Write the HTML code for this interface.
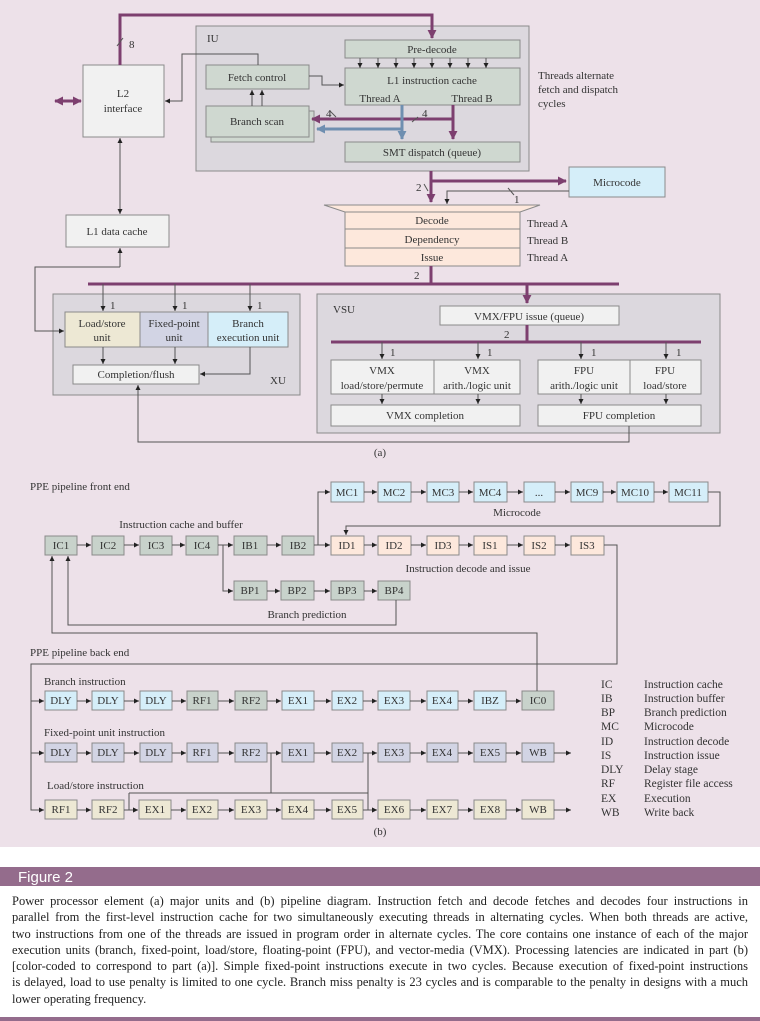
<!DOCTYPE html>
<html><head><meta charset="utf-8"><style>
html,body{margin:0;padding:0;background:#fff;width:760px;height:1021px;overflow:hidden}
svg{position:absolute;left:0;top:0}
.cap{position:absolute;left:12px;width:736px;font-family:"Liberation Serif",serif;font-size:12.5px;line-height:16.3px;color:#222}
.cap div{text-align:justify;text-align-last:justify;white-space:nowrap;height:16.3px}
.cap div.last{text-align-last:left}
</style></head><body>
<svg width="760" height="1021" viewBox="0 0 760 1021" xmlns="http://www.w3.org/2000/svg" font-family="Liberation Serif, serif" font-size="11" fill="#333">
<defs>
<marker id="a" viewBox="0 0 10 10" refX="10" refY="5" markerWidth="5" markerHeight="5" markerUnits="userSpaceOnUse" orient="auto"><path d="M0,0L10,5L0,10z" fill="#222"/></marker>
<marker id="p" viewBox="0 0 10 10" refX="9" refY="5" markerWidth="9" markerHeight="9" markerUnits="userSpaceOnUse" orient="auto"><path d="M0,0L10,5L0,10z" fill="#7d3f6f"/></marker>
<marker id="ps" viewBox="0 0 10 10" refX="1" refY="5" markerWidth="9" markerHeight="9" markerUnits="userSpaceOnUse" orient="auto"><path d="M10,0L0,5L10,10z" fill="#7d3f6f"/></marker>
<marker id="b" viewBox="0 0 10 10" refX="9" refY="5" markerWidth="9" markerHeight="9" markerUnits="userSpaceOnUse" orient="auto"><path d="M0,0L10,5L0,10z" fill="#6f8fb0"/></marker>
</defs>
<rect x="0" y="0" width="760" height="847" fill="#ede1e9"/>
<g stroke="#8a8a8a" stroke-width="1">
<rect x="196" y="26" width="333" height="145" fill="#dcd8de"/>
<rect x="345" y="40" width="175" height="18" fill="#cfd8d0"/>
<rect x="345" y="68" width="175" height="37" fill="#cfd8d0"/>
<rect x="206" y="65" width="103" height="24" fill="#cfd8d0"/>
<rect x="211" y="111" width="103" height="31" fill="#cfd8d0"/>
<rect x="206" y="106" width="103" height="31" fill="#cfd8d0"/>
<rect x="345" y="142" width="175" height="20" fill="#cfd8d0"/>
<rect x="83" y="65" width="81" height="72" fill="#f1f1f1"/>
<rect x="66" y="215" width="103" height="32" fill="#f1f1f1"/>
<rect x="569" y="167" width="96" height="30" fill="#d5eef9"/>
<path d="M324,205L540,205L520,212L345,212z" fill="#fde8dc"/>
<rect x="345" y="212" width="175" height="17" fill="#fde8dc"/>
<rect x="345" y="229" width="175" height="19" fill="#fde8dc"/>
<rect x="345" y="248" width="175" height="18" fill="#fde8dc"/>
<rect x="53" y="294" width="247" height="101" fill="#dcd8de"/>
<rect x="65" y="312" width="75" height="35" fill="#ede8d4"/>
<rect x="140" y="312" width="68" height="35" fill="#d2d4e4"/>
<rect x="208" y="312" width="80" height="35" fill="#d5eef9"/>
<rect x="73" y="365" width="126" height="19" fill="#f1f1f1"/>
<rect x="317" y="294" width="403" height="139" fill="#dcd8de"/>
<rect x="440" y="306" width="179" height="19" fill="#f1f1f1"/>
<rect x="331" y="360" width="103" height="34" fill="#f1f1f1"/>
<rect x="434" y="360" width="86" height="34" fill="#f1f1f1"/>
<rect x="538" y="360" width="92" height="34" fill="#f1f1f1"/>
<rect x="630" y="360" width="71" height="34" fill="#f1f1f1"/>
<rect x="331" y="405" width="189" height="21" fill="#f1f1f1"/>
<rect x="538" y="405" width="163" height="21" fill="#f1f1f1"/>
</g>
<g stroke="#7d3f6f" stroke-width="3" fill="none">
<path d="M120,65V15H432V38" marker-end="url(#p)"/>
<path d="M453,105V139" marker-end="url(#p)"/>
<path d="M453,119H312" marker-end="url(#p)"/>
<path d="M431,171V202" marker-end="url(#p)"/>
<path d="M431,181H566" marker-end="url(#p)"/>
<path d="M431,266V284"/>
<path d="M88,284H619"/>
<path d="M527,284V303" marker-end="url(#p)"/>
<path d="M527,325V342"/>
<path d="M331,342H701"/>
<path d="M55,101H81" marker-end="url(#p)" marker-start="url(#ps)"/>
</g>
<g stroke="#6f8fb0" stroke-width="3" fill="none">
<path d="M402,105V139" marker-end="url(#b)"/>
<path d="M402,129H317" marker-end="url(#b)"/>
</g>
<g stroke="#555" stroke-width="1" fill="none" marker-end="url(#a)">
<path d="M360,58V68"/><path d="M378,58V68"/><path d="M396,58V68"/><path d="M414,58V68"/><path d="M432,58V68"/><path d="M450,58V68"/><path d="M468,58V68"/><path d="M486,58V68"/>
<path d="M258,65V54H182V101H165"/>
<path d="M309,76H322V85H344"/>
<path d="M252,106V90"/><path d="M262,106V90"/>
<path d="M120,146V214"/><path d="M120,146V138"/>
<path d="M569,191H447V204"/>
<path d="M120,267V248"/>
<path d="M120,267H35V331H64"/>
<path d="M103,284V311"/><path d="M175,284V311"/><path d="M250,284V311"/>
<path d="M103,347V364"/><path d="M175,347V364"/>
<path d="M250,347V374H200"/>
<path d="M382,342V359"/><path d="M478,342V359"/><path d="M581,342V359"/><path d="M666,342V359"/>
<path d="M382,394V404"/><path d="M478,394V404"/><path d="M581,394V404"/><path d="M666,394V404"/>
<path d="M629,426V442H138V385"/>
</g>
<g stroke="#555" stroke-width="1" fill="none">
<path d="M117,46L123,38"/><path d="M330,111L336,117"/><path d="M418,117L412,122"/><path d="M424,184L428,191"/><path d="M508,188L514,195"/>
</g>
<g text-anchor="middle">
<text x="432" y="53">Pre-decode</text>
<text x="432" y="84">L1 instruction cache</text>
<text x="380" y="102">Thread A</text><text x="472" y="102">Thread B</text>
<text x="257" y="81">Fetch control</text>
<text x="257" y="125">Branch scan</text>
<text x="432" y="156">SMT dispatch (queue)</text>
<text x="123" y="97">L2</text><text x="123" y="112">interface</text>
<text x="117" y="235">L1 data cache</text>
<text x="617" y="186">Microcode</text>
<text x="432" y="224">Decode</text>
<text x="432" y="243">Dependency</text>
<text x="432" y="261">Issue</text>
<text x="102" y="327">Load/store</text><text x="102" y="341">unit</text>
<text x="174" y="327">Fixed-point</text><text x="174" y="341">unit</text>
<text x="248" y="327">Branch</text><text x="248" y="341">execution unit</text>
<text x="136" y="378">Completion/flush</text>
<text x="529" y="320">VMX/FPU issue (queue)</text>
<text x="382" y="374">VMX</text><text x="382" y="389">load/store/permute</text>
<text x="477" y="374">VMX</text><text x="477" y="389">arith./logic unit</text>
<text x="584" y="374">FPU</text><text x="584" y="389">arith./logic unit</text>
<text x="665" y="374">FPU</text><text x="665" y="389">load/store</text>
<text x="425" y="419">VMX completion</text>
<text x="619" y="419">FPU completion</text>
<text x="380" y="456">(a)</text>
</g>
<text x="207" y="42">IU</text>
<text x="333" y="313">VSU</text>
<text x="270" y="384">XU</text>
<text x="129" y="48">8</text>
<text x="326" y="117">4</text><text x="422" y="117">4</text>
<text x="416" y="191">2</text><text x="514" y="203">1</text>
<text x="414" y="279">2</text><text x="504" y="338">2</text>
<text x="110" y="309">1</text><text x="182" y="309">1</text><text x="257" y="309">1</text>
<text x="390" y="356">1</text><text x="487" y="356">1</text><text x="591" y="356">1</text><text x="676" y="356">1</text>
<text x="538" y="79">Threads alternate</text><text x="538" y="93">fetch and dispatch</text><text x="538" y="107">cycles</text>
<text x="527" y="227">Thread A</text><text x="527" y="244">Thread B</text><text x="527" y="261">Thread A</text>

<text x="30" y="490">PPE pipeline front end</text>
<text x="181" y="528" text-anchor="middle">Instruction cache and buffer</text>
<text x="517" y="516" text-anchor="middle">Microcode</text>
<text x="468" y="572" text-anchor="middle">Instruction decode and issue</text>
<text x="307" y="618" text-anchor="middle">Branch prediction</text>
<text x="30" y="656">PPE pipeline back end</text>
<text x="44" y="685">Branch instruction</text>
<text x="44" y="736">Fixed-point unit instruction</text>
<text x="47" y="789">Load/store instruction</text>
<text x="380" y="835" text-anchor="middle">(b)</text>

<g stroke="#8a8a8a" stroke-width="1">
<g fill="#d5eef9">
<rect x="331" y="482" width="33" height="20"/><rect x="378" y="482" width="33" height="20"/><rect x="427" y="482" width="32" height="20"/><rect x="474" y="482" width="33" height="20"/><rect x="524" y="482" width="31" height="20"/><rect x="571" y="482" width="32" height="20"/><rect x="617" y="482" width="37" height="20"/><rect x="669" y="482" width="39" height="20"/>
</g>
<g fill="#c8d2cb">
<rect x="45" y="536" width="32" height="19"/><rect x="92" y="536" width="32" height="19"/><rect x="140" y="536" width="32" height="19"/><rect x="186" y="536" width="32" height="19"/><rect x="234" y="536" width="33" height="19"/><rect x="282" y="536" width="32" height="19"/>
<rect x="234" y="581" width="33" height="19"/><rect x="281" y="581" width="33" height="19"/><rect x="331" y="581" width="33" height="19"/><rect x="378" y="581" width="32" height="19"/>
</g>
<g fill="#fde8dc">
<rect x="331" y="536" width="33" height="19"/><rect x="378" y="536" width="33" height="19"/><rect x="427" y="536" width="32" height="19"/><rect x="474" y="536" width="33" height="19"/><rect x="524" y="536" width="31" height="19"/><rect x="571" y="536" width="33" height="19"/>
</g>
<g fill="#d5eef9">
<rect x="45" y="691" width="32" height="19"/><rect x="92" y="691" width="32" height="19"/><rect x="140" y="691" width="32" height="19"/>
<rect x="282" y="691" width="32" height="19"/><rect x="332" y="691" width="31" height="19"/><rect x="378" y="691" width="32" height="19"/><rect x="427" y="691" width="31" height="19"/><rect x="474" y="691" width="32" height="19"/>
</g>
<g fill="#c8d2cb"><rect x="187" y="691" width="31" height="19"/><rect x="235" y="691" width="32" height="19"/><rect x="522" y="691" width="32" height="19"/></g>
<g fill="#d2d4e4">
<rect x="45" y="743" width="32" height="19"/><rect x="92" y="743" width="32" height="19"/><rect x="140" y="743" width="32" height="19"/><rect x="187" y="743" width="31" height="19"/><rect x="235" y="743" width="32" height="19"/><rect x="282" y="743" width="32" height="19"/><rect x="332" y="743" width="31" height="19"/><rect x="378" y="743" width="32" height="19"/><rect x="427" y="743" width="31" height="19"/><rect x="474" y="743" width="32" height="19"/><rect x="522" y="743" width="32" height="19"/>
</g>
<g fill="#ede8d4">
<rect x="45" y="800" width="32" height="19"/><rect x="92" y="800" width="32" height="19"/><rect x="139" y="800" width="32" height="19"/><rect x="187" y="800" width="31" height="19"/><rect x="235" y="800" width="32" height="19"/><rect x="282" y="800" width="32" height="19"/><rect x="332" y="800" width="31" height="19"/><rect x="378" y="800" width="32" height="19"/><rect x="427" y="800" width="31" height="19"/><rect x="474" y="800" width="32" height="19"/><rect x="522" y="800" width="32" height="19"/>
</g>
</g>
<g text-anchor="middle">
<text x="347" y="496">MC1</text><text x="394" y="496">MC2</text><text x="443" y="496">MC3</text><text x="490" y="496">MC4</text><text x="539" y="496">...</text><text x="587" y="496">MC9</text><text x="635" y="496">MC10</text><text x="688" y="496">MC11</text>
<text x="61" y="549">IC1</text><text x="108" y="549">IC2</text><text x="156" y="549">IC3</text><text x="202" y="549">IC4</text><text x="250" y="549">IB1</text><text x="298" y="549">IB2</text>
<text x="347" y="549">ID1</text><text x="394" y="549">ID2</text><text x="443" y="549">ID3</text><text x="490" y="549">IS1</text><text x="539" y="549">IS2</text><text x="587" y="549">IS3</text>
<text x="250" y="594">BP1</text><text x="297" y="594">BP2</text><text x="347" y="594">BP3</text><text x="394" y="594">BP4</text>
<text x="61" y="704">DLY</text><text x="108" y="704">DLY</text><text x="156" y="704">DLY</text><text x="202" y="704">RF1</text><text x="251" y="704">RF2</text><text x="298" y="704">EX1</text><text x="347" y="704">EX2</text><text x="394" y="704">EX3</text><text x="442" y="704">EX4</text><text x="490" y="704">IBZ</text><text x="538" y="704">IC0</text>
<text x="61" y="756">DLY</text><text x="108" y="756">DLY</text><text x="156" y="756">DLY</text><text x="202" y="756">RF1</text><text x="251" y="756">RF2</text><text x="298" y="756">EX1</text><text x="347" y="756">EX2</text><text x="394" y="756">EX3</text><text x="442" y="756">EX4</text><text x="490" y="756">EX5</text><text x="538" y="756">WB</text>
<text x="61" y="813">RF1</text><text x="108" y="813">RF2</text><text x="155" y="813">EX1</text><text x="202" y="813">EX2</text><text x="251" y="813">EX3</text><text x="298" y="813">EX4</text><text x="347" y="813">EX5</text><text x="394" y="813">EX6</text><text x="442" y="813">EX7</text><text x="490" y="813">EX8</text><text x="538" y="813">WB</text>
</g>
<g stroke="#555" stroke-width="1" fill="none" marker-end="url(#a)">
<path d="M364,492H377"/><path d="M411,492H426"/><path d="M459,492H473"/><path d="M507,492H523"/><path d="M555,492H570"/><path d="M603,492H616"/><path d="M654,492H668"/>
<path d="M708,492H720V526H346V535"/>
<path d="M77,545H91"/><path d="M124,545H139"/><path d="M172,545H185"/><path d="M218,545H233"/><path d="M267,545H281"/><path d="M314,545H330"/>
<path d="M364,545H377"/><path d="M411,545H426"/><path d="M459,545H473"/><path d="M507,545H523"/><path d="M555,545H570"/>
<path d="M318,545V492H330"/>
<path d="M223,545V591H233"/>
<path d="M267,591H280"/><path d="M314,591H330"/><path d="M364,591H377"/>
<path d="M396,600V625H68V556"/>
<path d="M537,691V633H52V556"/>
<path d="M604,545H617V664H31V810H44"/>
<path d="M31,701H44"/><path d="M31,753H44"/>
<path d="M77,701H91"/><path d="M124,701H139"/><path d="M172,701H186"/><path d="M218,701H234"/><path d="M267,701H281"/><path d="M314,701H331"/><path d="M363,701H377"/><path d="M410,701H426"/><path d="M458,701H473"/><path d="M506,701H521"/>
<path d="M77,753H91"/><path d="M124,753H139"/><path d="M172,753H186"/><path d="M218,753H234"/><path d="M267,753H281"/><path d="M314,753H331"/><path d="M363,753H377"/><path d="M410,753H426"/><path d="M458,753H473"/><path d="M506,753H521"/><path d="M554,753H571"/>
<path d="M77,810H91"/><path d="M124,810H138"/><path d="M171,810H186"/><path d="M218,810H234"/><path d="M267,810H281"/><path d="M314,810H331"/><path d="M363,810H377"/><path d="M410,810H426"/><path d="M458,810H473"/><path d="M506,810H521"/><path d="M554,810H571"/>
<path d="M129,793V810H138"/>
<path d="M368,753V810H377"/>
</g>
<g stroke="#555" stroke-width="1" fill="none">
<path d="M271,753V793"/>
<path d="M129,793H368"/>
</g>
<g font-size="11.5">
<text x="601" y="688">IC</text><text x="644" y="688">Instruction cache</text>
<text x="601" y="702">IB</text><text x="644" y="702">Instruction buffer</text>
<text x="601" y="716">BP</text><text x="644" y="716">Branch prediction</text>
<text x="601" y="730">MC</text><text x="644" y="730">Microcode</text>
<text x="601" y="745">ID</text><text x="644" y="745">Instruction decode</text>
<text x="601" y="759">IS</text><text x="644" y="759">Instruction issue</text>
<text x="601" y="773">DLY</text><text x="644" y="773">Delay stage</text>
<text x="601" y="787">RF</text><text x="644" y="787">Register file access</text>
<text x="601" y="802">EX</text><text x="644" y="802">Execution</text>
<text x="601" y="816">WB</text><text x="644" y="816">Write back</text>
</g>
<rect x="0" y="867" width="760" height="19" fill="#946c8c"/>
<text x="18" y="882" font-family="Liberation Sans, sans-serif" font-size="15" fill="#fff">Figure 2</text>
<rect x="0" y="1017" width="760" height="4" fill="#946c8c"/>
</svg>
<div class="cap" style="top:893px">
<div>Power processor element (a) major units and (b) pipeline diagram. Instruction fetch and decode fetches and decodes four instructions in</div>
<div>parallel from the first-level instruction cache for two simultaneously executing threads in alternating cycles. When both threads are active,</div>
<div>two instructions from one of the threads are issued in program order in alternate cycles. The core contains one instance of each of the major</div>
<div>execution units (branch, fixed-point, load/store, floating-point (FPU), and vector-media (VMX). Processing latencies are indicated in part (b)</div>
<div>[color-coded to correspond to part (a)]. Simple fixed-point instructions execute in two cycles. Because execution of fixed-point instructions</div>
<div>is delayed, load to use penalty is limited to one cycle. Branch miss penalty is 23 cycles and is comparable to the penalty in designs with a much</div>
<div class="last">lower operating frequency.</div>
</div>
</body></html>
